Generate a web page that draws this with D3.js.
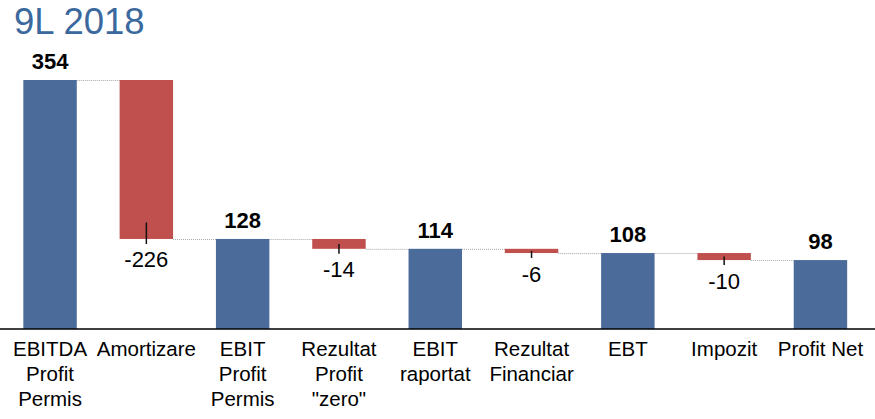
<!DOCTYPE html>
<html>
<head>
<meta charset="utf-8">
<script src="https://cdn.jsdelivr.net/npm/d3@7"></script>
<style>
	body { margin: 0; background: #fff; }
	svg { font-family: Arial, "Liberation Sans", sans-serif; display: block; }
</style>
</head>
<body>
<div id="chart"></div>
<script>
var categories = [
	["EBITDA", "Profit", "Permis"],
	["Amortizare"],
	["EBIT", "Profit", "Permis"],
	["Rezultat", "Profit", "\"zero\""],
	["EBIT", "raportat"],
	["Rezultat", "Financiar"],
	["EBT"],
	["Impozit"],
	["Profit Net"]
];
var values = [354, -226, 128, -14, 114, -6, 108, -10, 98];
var isTotal = [true, false, true, false, true, false, true, false, true];
var title = "9L 2018";

var width = 875,
	height = 419;

var blue = "#4b6b9b",
	red = "#c0504d";

// running start / end of each step
var steps = [];
var level = 0;
values.forEach(function(v, i) {
	var start, end;
	if (isTotal[i]) {
		start = 0;
		end = v;
	} else {
		start = level;
		end = level + v;
	}
	level = end;
	steps.push({i: i, value: v, total: isTotal[i], start: start, end: end, label: categories[i]});
});

var svg = d3.select('#chart').append('svg')
	.attr('width', width)
	.attr('height', height);

svg.append('text')
	.attr('x', 14)
	.attr('y', 34)
	.style('font-size', '36.5px')
	.style('fill', '#3b689d')
	.text(title);

var x = d3.scaleBand()
	.domain(d3.range(values.length))
	.range([1.9, 868.6])
	.paddingInner(0.445)
	.paddingOuter(0.2225);

var y = d3.scaleLinear()
	.domain([0, d3.max(steps, function(d) { return Math.max(d.start, d.end); })])
	.range([329, 80]);

// dotted connectors
svg.append('g').selectAll('line')
	.data(steps.slice(0, -1))
	.enter().append('line')
	.attr('x1', function(d) { return x(d.i) + x.bandwidth(); })
	.attr('x2', function(d) { return x(d.i + 1); })
	.attr('y1', function(d) { return y(d.end) + 0.5; })
	.attr('y2', function(d) { return y(d.end) + 0.5; })
	.attr('stroke', '#a6a6a6')
	.attr('stroke-width', 1)
	.attr('stroke-dasharray', '1,1');

// bars
svg.append('g').selectAll('rect')
	.data(steps)
	.enter().append('rect')
	.attr('x', function(d) { return x(d.i); })
	.attr('width', x.bandwidth())
	.attr('y', function(d) { return y(Math.max(d.start, d.end)); })
	.attr('height', function(d) { return Math.abs(y(d.start) - y(d.end)); })
	.attr('fill', function(d) { return d.total ? blue : red; });

// ticks under the negative steps
var deltas = steps.filter(function(d) { return !d.total; });

svg.append('g').selectAll('line')
	.data(deltas)
	.enter().append('line')
	.attr('x1', function(d) { return x(d.i) + x.bandwidth() / 2; })
	.attr('x2', function(d) { return x(d.i) + x.bandwidth() / 2; })
	.attr('y1', function(d) {
		var h = y(d.end) - y(d.start);
		return y(d.end) - Math.min(h / 2, 16.5);
	})
	.attr('y2', function(d) { return y(d.end) + 5; })
	.attr('stroke', '#111')
	.attr('stroke-width', 1.5);

svg.append('g').selectAll('text')
	.data(deltas)
	.enter().append('text')
	.attr('x', function(d) { return x(d.i) + x.bandwidth() / 2; })
	.attr('y', function(d) { return y(d.end) + 28.5; })
	.attr('text-anchor', 'middle')
	.style('font-size', '22px')
	.style('fill', '#000')
	.text(function(d) { return d.value; });

// totals above bars
svg.append('g').selectAll('text')
	.data(steps.filter(function(d) { return d.total; }))
	.enter().append('text')
	.attr('x', function(d) { return x(d.i) + x.bandwidth() / 2; })
	.attr('y', function(d) { return y(d.end) - 11; })
	.attr('text-anchor', 'middle')
	.style('font-size', '22px')
	.style('font-weight', 'bold')
	.style('fill', '#000')
	.text(function(d) { return d.value; });

// baseline
svg.append('line')
	.attr('x1', 0)
	.attr('x2', width)
	.attr('y1', y(0))
	.attr('y2', y(0))
	.attr('stroke', '#000')
	.attr('stroke-width', 1.5);

// category labels
var cats = svg.append('g').selectAll('text')
	.data(steps)
	.enter().append('text')
	.attr('text-anchor', 'middle')
	.style('font-size', '20.5px')
	.style('fill', '#000');

cats.selectAll('tspan')
	.data(function(d) {
		return d.label.map(function(t, k) { return {t: t, k: k, i: d.i}; });
	})
	.enter().append('tspan')
	.attr('x', function(d) { return x(d.i) + x.bandwidth() / 2; })
	.attr('y', function(d) { return 356 + d.k * 25; })
	.text(function(d) { return d.t; });
</script>
</body>
</html>
